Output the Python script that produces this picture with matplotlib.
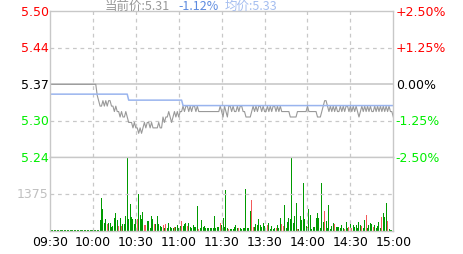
import numpy as np
import matplotlib
matplotlib.use("Agg")
import matplotlib.pyplot as plt
import matplotlib.transforms as mtransforms

# -----------------------------
# данные (минуты 0..240, 09:30 -> 15:00)
# -----------------------------
prev_close = 5.37

price = ([5.37] * 33 +
         [5.35, 5.34, 5.33, 5.33, 5.34, 5.33] +
         [5.34, 5.33, 5.34, 5.34, 5.33, 5.33, 5.32, 5.33, 5.32] +
         [5.32, 5.31, 5.32, 5.31, 5.31, 5.32, 5.31, 5.30, 5.30] +
         [5.30, 5.29, 5.30, 5.29, 5.29, 5.28, 5.29, 5.28, 5.29] +
         [5.30, 5.29, 5.30, 5.30, 5.29, 5.30, 5.29, 5.29, 5.29, 5.29, 5.30, 5.29, 5.29] +
         [5.31, 5.30, 5.31, 5.31, 5.32, 5.31, 5.30, 5.31, 5.32, 5.31] +
         [5.32, 5.31, 5.32, 5.32] +
         [5.33, 5.32, 5.33, 5.33, 5.32, 5.33, 5.32, 5.33, 5.33, 5.32, 5.33, 5.32] +
         [5.32] * 14 +
         [5.33, 5.32, 5.31, 5.33, 5.32, 5.31, 5.33] +
         [5.33, 5.32, 5.33, 5.32, 5.32, 5.33, 5.32, 5.33, 5.33, 5.32] +
         [5.32, 5.31, 5.31, 5.31, 5.31, 5.32] +
         [5.33, 5.32, 5.33, 5.32, 5.33, 5.33, 5.32, 5.33, 5.32, 5.32, 5.33,
          5.32, 5.33, 5.32, 5.33, 5.33, 5.32, 5.33, 5.32, 5.33, 5.32] +
         [5.32] * 5 + [5.31] * 5 + [5.32] * 7 + [5.33] + [5.32] * 6 + [5.31] * 3 +
         [5.32, 5.33, 5.34, 5.34, 5.33] +
         [5.32, 5.33, 5.32, 5.33, 5.32, 5.33, 5.32, 5.32, 5.33, 5.32,
          5.33, 5.32, 5.33, 5.33, 5.32, 5.33, 5.32, 5.33, 5.32, 5.33,
          5.32, 5.31, 5.32, 5.33, 5.32, 5.33, 5.32, 5.33, 5.32, 5.33,
          5.32, 5.32, 5.33, 5.32, 5.33, 5.32, 5.33, 5.32, 5.33, 5.32,
          5.33, 5.32, 5.33, 5.32, 5.32] +
         [5.31])

avg_price = [5.352] * 55 + [5.341] * 38 + [5.331] * 148

volume = ([20] * 34 +
          [30, 400, 1230, 810, 300, 430, 250] +
          [280, 300, 130, 170, 480, 650, 380, 185, 460, 185] +
          [250, 250, 560, 2750, 436, 1000, 499, 436, 250, 436] +
          [436, 1376, 580, 436, 687, 220, 210, 373, 373, 98] +
          [545, 420, 250, 250, 545, 250, 185, 140, 220, 98] +
          [250, 98, 290, 140, 98, 98, 120, 120, 220, 98] +
          [185, 373, 185, 250, 280, 185, 280, 120, 98, 220] +
          [120, 150, 940, 70, 100, 400, 120, 190, 100, 80] +
          [80, 80, 80, 100, 560, 110, 130, 120, 300, 220] +
          [470, 130, 1530, 80, 70, 70, 70, 70, 120, 200] +
          [100, 100, 100, 70, 100, 90, 1580, 100, 100, 750] +
          [1150, 150, 150, 250, 220, 440, 220, 150, 270, 170] +
          [100, 220, 290, 70, 170, 70, 100, 100, 220, 100] +
          [470, 250, 190, 960, 100, 330, 470, 450, 2750, 290] +
          [560, 1020, 70, 70, 540, 410, 1780, 440, 190, 130] +
          [810, 590, 70, 120, 120, 460, 650, 470, 100, 1780] +
          [330, 730, 370, 100, 960, 70, 190, 290, 250, 150] +
          [120, 150, 100, 220, 100, 70, 330, 100, 150, 350] +
          [100, 210, 120, 210, 100, 330, 210, 190, 100, 400] +
          [590, 100, 210, 290, 250, 150, 210, 100, 190, 330] +
          [100, 520, 650, 520, 1020, 370, 70, 40, 40, 960])

# минуты с красными (растущими) столбиками
up_minutes = [40, 48, 50, 61, 66, 67, 73, 79, 81, 87, 92, 96, 104, 119, 125, 132,
              141, 142, 151, 152, 158, 162, 163, 173, 180, 192, 199, 206, 209,
              211, 218, 221, 226, 232, 236]

time_labels = ["09:30", "10:00", "10:30", "11:00", "11:30", "13:30", "14:00", "14:30", "15:00"]
price_labels = ["5.50", "5.44", "5.37", "5.30", "5.24"]
pct_labels = ["+2.50%", "+1.25%", "0.00%", "-1.25%", "-2.50%"]
label_colors = ["#ff0000", "#ff0000", "#000000", "#00ee00", "#00ee00"]
vol_mid = 1375
cur_price, cur_pct, cur_avg = 5.31, -1.12, 5.33

assert len(price) == 241 and len(avg_price) == 241 and len(volume) == 241

# -----------------------------
# рисунок
# -----------------------------
W, H = 463, 255
fig = plt.figure(figsize=(W / 100, H / 100), dpi=100)
left, right = 50 / W, 393.3 / W
top, mid, bottom = 1 - 12.3 / H, 1 - 158.4 / H, 1 - 231.6 / H

ax = fig.add_axes([left, mid, right - left, top - mid])
axv = fig.add_axes([left, bottom, right - left, mid - bottom], sharex=ax)

grid_c = "#c8c8c8"
x = np.arange(241)
levels = [prev_close * (1 + p) for p in (0.025, 0.0125, 0, -0.0125, -0.025)]

ax.set_xlim(0, 240)
ax.set_ylim(levels[-1], levels[0])
axv.set_ylim(0, 2 * vol_mid)

for a in (ax, axv):
    for s in a.spines.values():
        s.set_color(grid_c)
        s.set_linewidth(1)
    a.set_xticks([])
    a.set_yticks([])
    for t in range(30, 240, 30):
        a.axvline(t, color=grid_c, lw=0.9, ls=(0, (3, 3)))

ax.axhline(levels[1], color=grid_c, lw=0.9, ls=(0, (3, 3)))
ax.axhline(levels[3], color=grid_c, lw=0.9, ls=(0, (3, 3)))
ax.axhline(prev_close, color=grid_c, lw=1.2)
axv.axhline(vol_mid, color=grid_c, lw=0.9, ls=(0, (3, 3)))

ax.plot(x, price, color="#999999", lw=0.8)
ax.plot(x, avg_price, color="#99b4ee", lw=1.1)

bar_colors = ["#f25a5a" if i in up_minutes else "#009a00" for i in range(241)]
axv.bar(x, volume, width=0.7, color=bar_colors, linewidth=0, antialiased=False)

# подписи слева/справа
tr_l = mtransforms.blended_transform_factory(ax.transAxes, ax.transData)
for lv, lab, pl, c in zip(levels, price_labels, pct_labels, label_colors):
    ax.text(-0.004, lv, lab, transform=tr_l, ha="right", va="center", color=c,
            fontsize=9, clip_on=False)
    ax.text(1.007, lv, pl, transform=tr_l, ha="left", va="center", color=c,
            fontsize=9, clip_on=False)

tr_v = mtransforms.blended_transform_factory(axv.transAxes, axv.transData)
axv.text(-0.004, vol_mid, str(vol_mid), transform=tr_v, ha="right", va="center",
         color="#c0c0c0", fontsize=9)

# подписи времени
tr_t = mtransforms.blended_transform_factory(axv.transData, axv.transAxes)
for i, lab in enumerate(time_labels):
    axv.text(i * 30, -0.055, lab, transform=tr_t,
             ha="center", va="top", fontsize=9, color="#000000")

# заголовок
fam = ["Noto Sans CJK SC", "DejaVu Sans"]
yb = 1 - 9.5 / H
fig.text(105 / W, yb, f"当前价:{cur_price:.2f}", color="#999999", fontsize=9, family=fam, va="baseline")
fig.text(178 / W, yb, f"{cur_pct:.2f}%", color="#5d8be0", fontsize=9, family=fam, va="baseline")
fig.text(225 / W, yb, f"均价:{cur_avg:.2f}", color="#a5bef0", fontsize=9, family=fam, va="baseline")

fig.savefig("out.png", dpi=100, facecolor="white")
